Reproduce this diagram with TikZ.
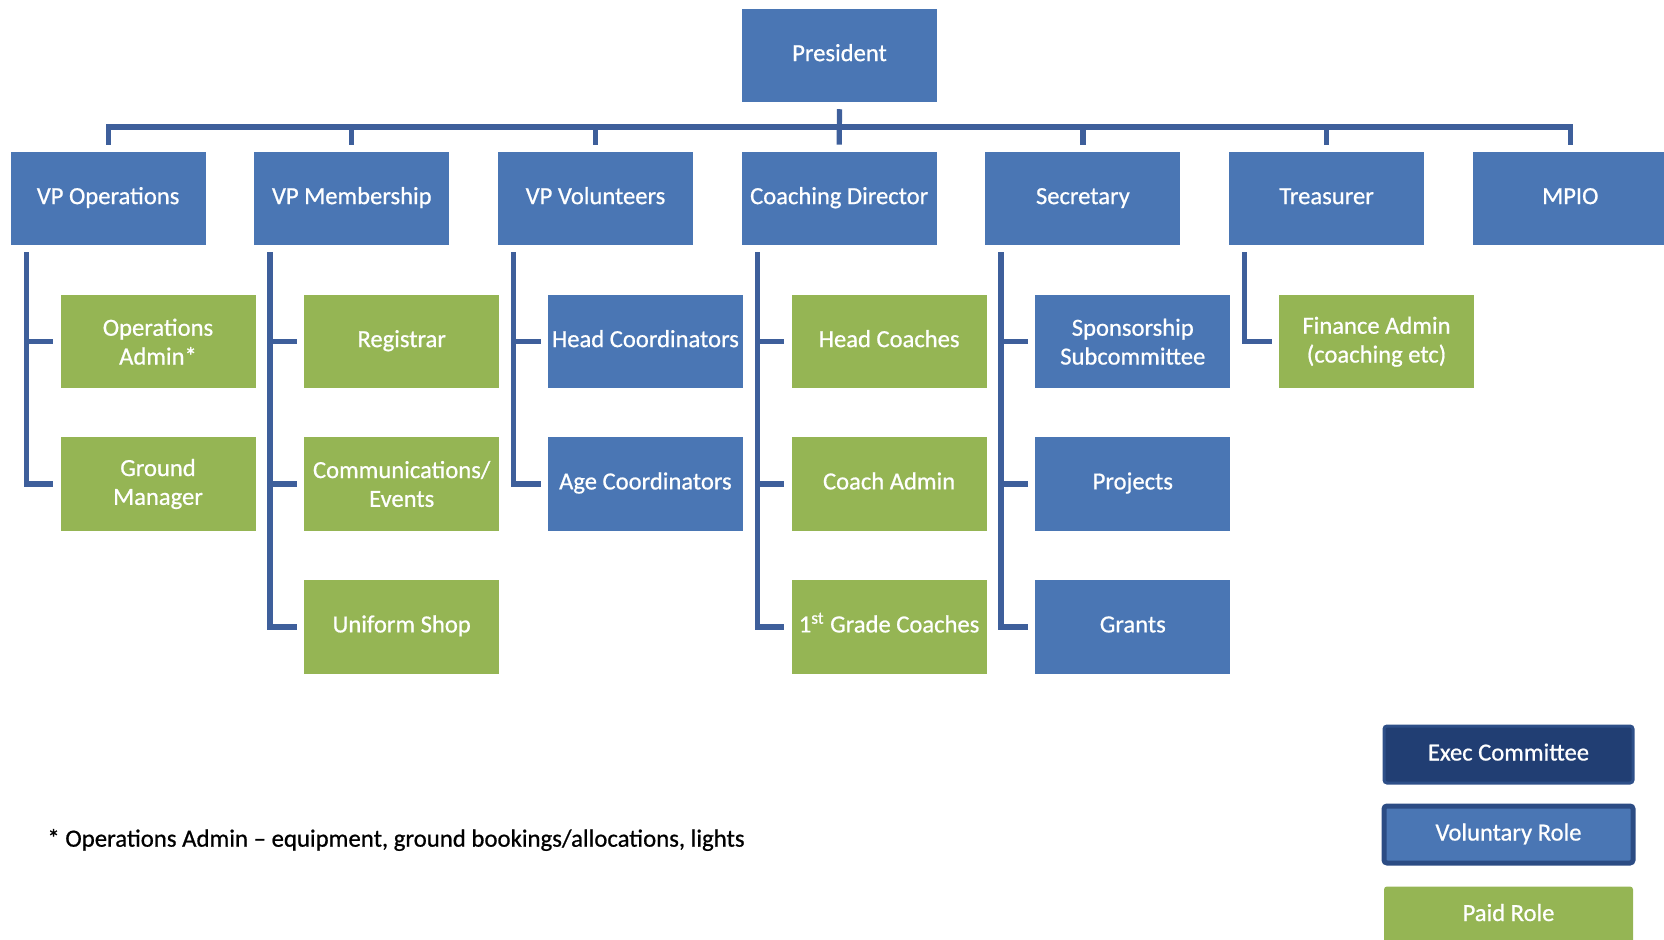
\documentclass[tikz,border=0pt]{standalone}
\usepackage{fontspec}
\setmainfont{Carlito}[FakeBold=0.7]
\definecolor{boxblue}{HTML}{4A76B4}
\definecolor{boxgreen}{HTML}{95B554}
\definecolor{linkblue}{HTML}{3E5F9B}
\definecolor{execfill}{HTML}{213E73}
\definecolor{execedge}{HTML}{2E4F88}
\definecolor{voledge}{HTML}{2C4C84}
\begin{document}
\begin{tikzpicture}[x=0.5pt,y=-0.5pt,
  role/.style={minimum width=97.5pt,minimum height=46.75pt,inner sep=1pt,
    text=white,align=center,font=\fontsize{12.3pt}{14.4pt}\selectfont},
  one/.style={text height=8.6pt,text depth=3.2pt},
  vol/.style={role,fill=boxblue},
  paid/.style={role,fill=boxgreen},
  conn/.style={draw=linkblue,line width=2.6pt},
  legend/.style={minimum width=124.5pt,minimum height=28.5pt,rounded corners=1.5pt,
    text=white,font=\fontsize{12.3pt}{14.4pt}\selectfont,text height=8.6pt,text depth=2.6pt}]
\useasboundingbox (0,0) rectangle (1664,940);

% top of the tree
\node[vol,one] (pres) at (839.5,55.7) {President};

% executive row
\node[vol,one] (vpops)  at (108.1,198.7)  {VP Operations};
\node[vol,one] (vpmem)  at (351.8,198.7)  {VP Membership};
\node[vol,one] (vpvol)  at (595.5,198.7)  {VP Volunteers};
\node[vol,one] (coach)  at (839.2,198.7)  {Coaching Director};
\node[vol,one] (sec)    at (1082.9,198.7) {Secretary};
\node[vol,one] (treas)  at (1326.6,198.7) {Treasurer};
\node[vol,one] (mpio)   at (1570.3,198.7) {MPIO};

% bus from the President to every executive
\coordinate (bus) at (0,127);
\draw[conn] ([yshift=-3.2pt]pres.south) -- ([yshift=3.5pt]coach.north);
\draw[conn] ([yshift=3.5pt]vpops.north) -- (vpops.north |- bus)
  -- (mpio.north |- bus) -- ([yshift=3.5pt]mpio.north);
\foreach \n in {vpmem,vpvol,sec,treas}
  \draw[conn] (\n.north |- bus) -- ([yshift=3.5pt]\n.north);

% second level
\node[paid] (opsadmin) at (158,341.7) {Operations\\Admin*};
\node[paid] (ground)   at (158,484)   {Ground\\Manager};

\node[paid,one] (registrar) at (401.7,341.7) {Registrar};
\node[paid] (comms)     at (401.7,484)   {Communications/\\Events};
\node[paid,one] (uniform)   at (401.7,627)   {Uniform Shop};

\node[vol,one] (headcoord) at (645.4,341.7) {Head Coordinators};
\node[vol,one] (agecoord)  at (645.4,484)   {Age Coordinators};

\node[paid,one] (headcoach)  at (889.1,341.7) {Head Coaches};
\node[paid,one] (coachadmin) at (889.1,484)   {Coach Admin};
\node[paid,one] (firstgrade) at (889.1,627)   {1\textsuperscript{st} Grade Coaches};

\node[vol] (sponsor)  at (1132.8,341.7) {Sponsorship\\Subcommittee};
\node[vol,one] (projects) at (1132.8,484)   {Projects};
\node[vol,one] (grants)   at (1132.8,627)   {Grants};

\node[paid] (finance) at (1376.5,341.7) {Finance Admin\\(coaching etc)};

% spines down the left side of each executive
\foreach \p/\last/\others in {
    vpops/ground/{opsadmin},
    vpmem/uniform/{registrar,comms},
    vpvol/agecoord/{headcoord},
    coach/firstgrade/{headcoach,coachadmin},
    sec/grants/{sponsor,projects}}{
  \coordinate (sp) at ([xshift=8pt,yshift=-3.2pt]\p.south west);
  \draw[conn] (sp) |- ([xshift=-3.5pt]\last.west);
  \foreach \c in \others
    \draw[conn] (sp |- \c.west) -- ([xshift=-3.5pt]\c.west);
}
\coordinate (sp) at ([xshift=8pt,yshift=-3.2pt]treas.south west);
\draw[conn] (sp) |- ([xshift=-3.5pt]finance.west);

% footnote
\node[anchor=west,inner sep=0pt,font=\fontsize{12.4pt}{14.8pt}\selectfont] (note) at (47,840)
  {* Operations Admin -- equipment, ground bookings/allocations, lights};

% legend
\node[legend,fill=execfill,draw=execedge,line width=1.5pt] (lexec) at (1508.5,754.5) {Exec Committee};
\node[legend,fill=boxblue,draw=voledge,line width=2.5pt] (lvol) at (1508.5,834.5) {Voluntary Role};
\node[legend,fill=boxgreen] (lpaid) at (1508.5,915) {Paid Role};
\end{tikzpicture}
\end{document}
